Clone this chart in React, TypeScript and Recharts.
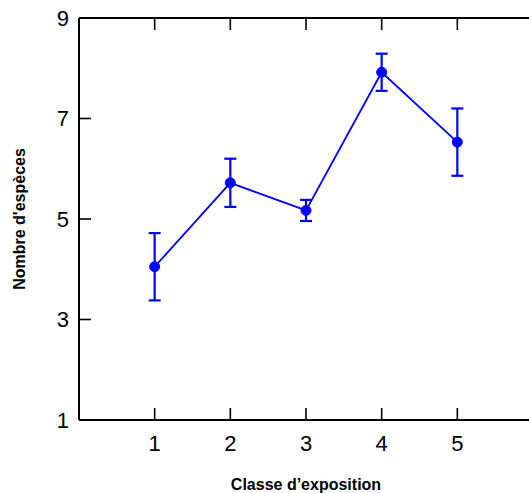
import { ErrorBar, Line, LineChart, XAxis, YAxis } from 'recharts'

const classes = [1, 2, 3, 4, 5]
const species = [4.05, 5.72, 5.17, 7.92, 6.53]
const errors = [0.67, 0.48, 0.21, 0.37, 0.67]
const xTicks = [1, 2, 3, 4, 5]
const yTicks = [1, 3, 5, 7, 9]

const data = classes.map((c, i) => ({ classe: c, value: species[i], err: errors[i] }))

const BLUE = '#0000ff'
const FONT = '"Liberation Sans", Arial, sans-serif'

const axisStyle = { stroke: '#000', strokeWidth: 2 }
const tickLineStyle = { stroke: '#000', strokeWidth: 1.6 }
const tickText = { fontSize: 22, fill: '#000', fontFamily: FONT }

// ticks on the mirrored axes: lines only, no labels
const NoLabel = () => <g />

function XLabel(props: any) {
    const vb = props.viewBox
    return (
        <text
            x={vb.x + vb.width / 2}
            y={vb.y + 64}
            textAnchor="middle"
            dominantBaseline="central"
            fontFamily={FONT}
            fontWeight="bold"
            fontSize={16}
            fill="#000"
        >
            Classe d’exposition
        </text>
    )
}

function YLabel(props: any) {
    const vb = props.viewBox
    const x = vb.x + 19
    const y = vb.y + vb.height / 2
    return (
        <text
            x={x}
            y={y}
            transform={`rotate(-90 ${x} ${y})`}
            textAnchor="middle"
            dominantBaseline="central"
            fontFamily={FONT}
            fontWeight="bold"
            fontSize={16}
            fill="#000"
        >
            Nombre d'espèces
        </text>
    )
}

export default function App() {
    return (
        <div
            style={{
                position: 'absolute',
                left: 0,
                top: 0,
                width: 529,
                height: 493,
                overflow: 'hidden',
                background: '#fff',
            }}
        >
            <LineChart
                width={545}
                height={493}
                data={data}
                margin={{ top: 17, right: 11, bottom: 0, left: 0 }}
            >
                <XAxis
                    dataKey="classe"
                    type="number"
                    domain={[0, 6]}
                    ticks={xTicks}
                    height={73}
                    axisLine={axisStyle}
                    tickLine={tickLineStyle}
                    tickSize={-12}
                    tickMargin={27}
                    tick={tickText}
                    label={<XLabel />}
                />
                <XAxis
                    xAxisId="top"
                    orientation="top"
                    dataKey="classe"
                    type="number"
                    domain={[0, 6]}
                    ticks={xTicks}
                    height={1}
                    axisLine={axisStyle}
                    tickLine={tickLineStyle}
                    tickSize={-12}
                    tick={NoLabel}
                />
                <YAxis
                    type="number"
                    domain={[1, 9]}
                    ticks={yTicks}
                    width={79}
                    axisLine={axisStyle}
                    tickLine={tickLineStyle}
                    tickSize={-12}
                    tickMargin={22}
                    tick={tickText}
                    label={<YLabel />}
                />
                <YAxis
                    yAxisId="right"
                    orientation="right"
                    type="number"
                    domain={[1, 9]}
                    ticks={yTicks}
                    width={1}
                    axisLine={axisStyle}
                    tickLine={tickLineStyle}
                    tickSize={-12}
                    tick={NoLabel}
                />
                <Line
                    dataKey="value"
                    stroke={BLUE}
                    strokeWidth={1.8}
                    dot={{ r: 5, fill: BLUE, stroke: BLUE, strokeWidth: 1 }}
                    activeDot={false}
                    isAnimationActive={false}
                >
                    <ErrorBar
                        dataKey="err"
                        direction="y"
                        width={6}
                        stroke={BLUE}
                        strokeWidth={2.2}
                        isAnimationActive={false}
                    />
                </Line>
            </LineChart>
        </div>
    )
}
